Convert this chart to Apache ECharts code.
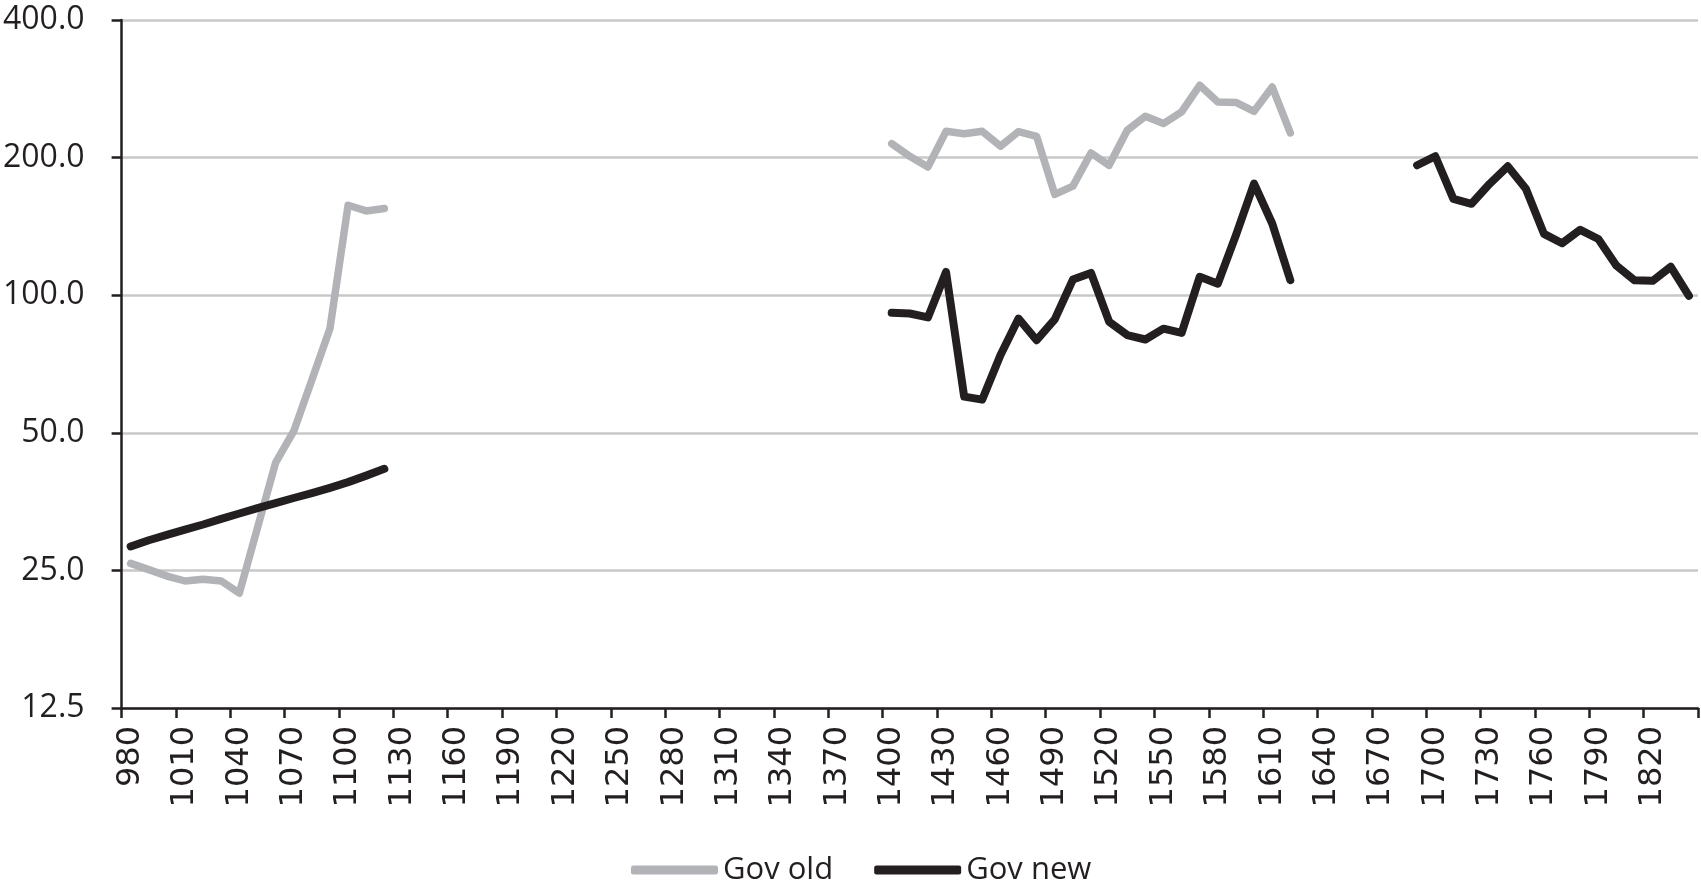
<!DOCTYPE html>
<html>
<head>
<meta charset="utf-8">
<script src="https://cdn.jsdelivr.net/npm/echarts@6/dist/echarts.min.js"></script>
<style>
html,body{margin:0;padding:0;background:#fff;}
#chart{width:1701px;height:893px;}
</style>
</head>
<body>
<div id="chart"></div>
<script>
// Categories (decades)
var years = ['980','990','1000','1010','1020','1030','1040','1050','1060','1070','1080','1090','1100','1110','1120','1130','1140','1150','1160','1170','1180','1190','1200','1210','1220','1230','1240','1250','1260','1270','1280','1290','1300','1310','1320','1330','1340','1350','1360','1370','1380','1390','1400','1410','1420','1430','1440','1450','1460','1470','1480','1490','1500','1510','1520','1530','1540','1550','1560','1570','1580','1590','1600','1610','1620','1630','1640','1650','1660','1670','1680','1690','1700','1710','1720','1730','1740','1750','1760','1770','1780','1790','1800','1810','1820','1830','1840'];

// Y tick labels (log base 2)
var yTicks = [12.5, 25, 50, 100, 200, 400];

// Gov old: 980-1120 and 1400-1620
var govOldStart1 = '980';
var govOld1 = [25.9, 25.1, 24.3, 23.7, 23.9, 23.7, 22.3, 31.0, 43.0, 50.4, 65.2, 84.6, 157.3, 152.9, 154.7];
var govOldStart2 = '1400';
var govOld2 = [214.6, 201.3, 190.8, 228.3, 225.6, 228.3, 211.8, 228.0, 222.6, 166.2, 173.2, 204.7, 192.4, 229.5, 246.3, 237.4, 251.7, 287.9, 264.7, 264.0, 252.5, 285.5, 226.5];

// Gov new: 980-1120, 1400-1620, 1690-1840
var govNewStart1 = '980';
var govNew1 = [28.2, 29.1, 29.9, 30.7, 31.5, 32.4, 33.3, 34.2, 35.1, 36.0, 36.9, 37.9, 39.0, 40.3, 41.7];
var govNewStart2 = '1400';
var govNew2 = [91.5, 91.2, 89.4, 112.4, 60.0, 59.1, 73.9, 88.9, 79.7, 88.5, 108.2, 111.9, 87.5, 81.8, 80.0, 84.5, 82.7, 109.7, 106.0, 135.3, 175.5, 143.5, 107.9];
var govNewStart3 = '1690';
var govNew3 = [192.4, 201.4, 162.5, 158.5, 175.3, 191.4, 171.0, 136.2, 129.9, 139.0, 132.7, 116.0, 107.8, 107.5, 115.4, 99.7];

function buildSeries(parts) {
  var out = years.map(function () { return null; });
  parts.forEach(function (p) {
    var s = years.indexOf(p[0]);
    p[1].forEach(function (v, i) { out[s + i] = v; });
  });
  return out;
}

var oldData = buildSeries([[govOldStart1, govOld1], [govOldStart2, govOld2]]);
var newData = buildSeries([[govNewStart1, govNew1], [govNewStart2, govNew2], [govNewStart3, govNew3]]);

var ink = '#231f20';
var grayLine = '#b2b3b6';

var chart = echarts.init(document.getElementById('chart'), null, {renderer: 'canvas'});
chart.setOption({
  animation: false,
  backgroundColor: '#ffffff',
  grid: {left: 120, right: 3, top: 20, bottom: 185, containLabel: false},
  legend: {
    left: 626,
    top: 845,
    itemWidth: 87,
    itemHeight: 9,
    itemGap: 41,
    icon: 'roundRect',
    textStyle: {fontFamily: 'Open Sans', fontSize: 31, color: ink, lineHeight: 40},
    data: ['Gov old', 'Gov new']
  },
  xAxis: {
    type: 'category',
    data: years,
    boundaryGap: true,
    axisLine: {show: true, lineStyle: {color: ink, width: 2.5}},
    axisTick: {show: true, interval: 2, length: 10, lineStyle: {color: ink, width: 2.5}},
    axisLabel: {
      interval: 2, rotate: 90, margin: 18,
      fontFamily: 'DejaVu Sans', fontSize: 32, color: ink
    },
    splitLine: {show: false}
  },
  yAxis: {
    type: 'log',
    logBase: 2,
    min: 12.5,
    max: 400,
    axisLine: {show: true, lineStyle: {color: ink, width: 2.5}},
    axisTick: {show: true, length: 10, customValues: yTicks, lineStyle: {color: ink, width: 2.5}},
    axisLabel: {
      customValues: yTicks,
      margin: 37,
      fontFamily: 'Open Sans', fontSize: 32, color: ink,
      formatter: function (v) { return Number(v).toFixed(1); }
    },
    splitLine: {show: true, lineStyle: {color: '#c8c8c8', width: 2.5}}
  },
  series: [
    {
      name: 'Gov old', type: 'line', data: oldData, showSymbol: false, symbol: 'none',
      connectNulls: false, color: grayLine,
      lineStyle: {color: grayLine, width: 7.5, cap: 'round', join: 'round'},
      z: 2
    },
    {
      name: 'Gov new', type: 'line', data: newData, showSymbol: false, symbol: 'none',
      connectNulls: false, color: ink,
      lineStyle: {color: ink, width: 8, cap: 'round', join: 'round'},
      z: 3
    }
  ]
});
</script>
</body>
</html>
